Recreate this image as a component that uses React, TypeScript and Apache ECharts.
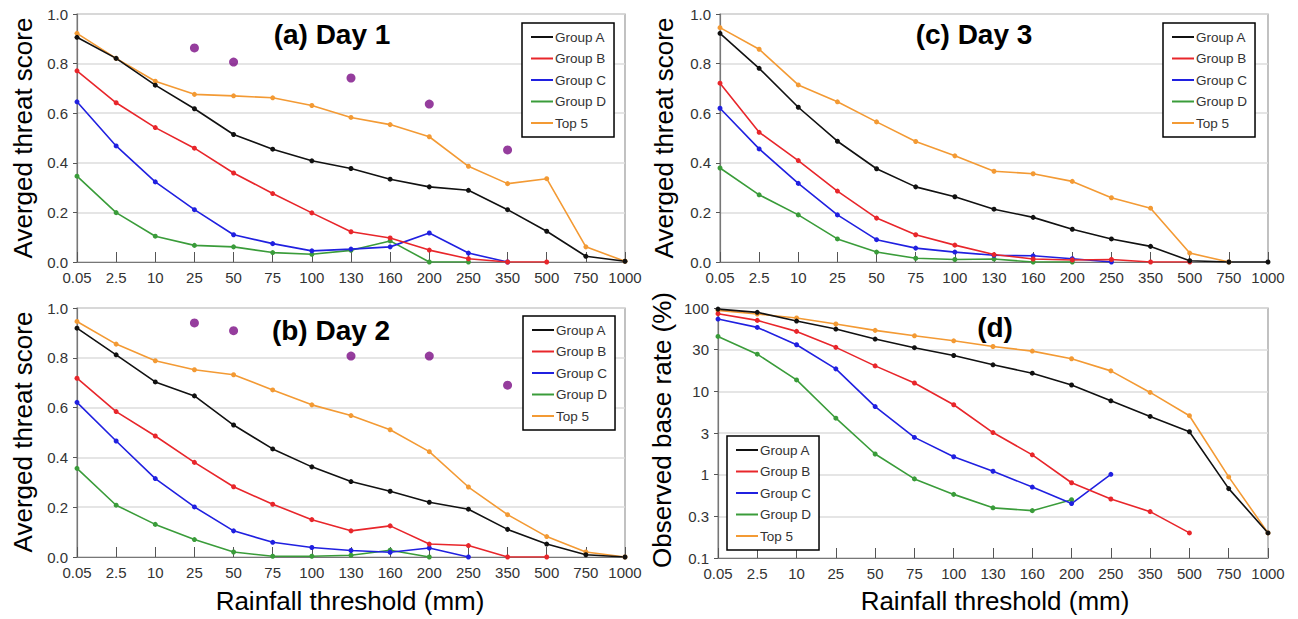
import React, { useEffect, useRef } from "react";
import * as echarts from "echarts";

const CATS = ["0.05", "2.5", "10", "25", "50", "75", "100", "130", "160", "200", "250", "350", "500", "750", "1000"];
const NAMES = ["Group A", "Group B", "Group C", "Group D", "Top 5"];
const COLORS = ["#111111", "#e8262b", "#2020e0", "#3a9c3a", "#f39a34"];
const SCORE_TICKS = ["0.0", "0.2", "0.4", "0.6", "0.8", "1.0"];
const LOG_TICKS = ["0.1", "0.3", "1", "3", "10", "30", "100"];

// Day 1
const A1 = [0.906, 0.821, 0.713, 0.618, 0.514, 0.455, 0.408, 0.377, 0.334, 0.303, 0.289, 0.211, 0.124, 0.023, 0.003];
const B1 = [0.771, 0.642, 0.542, 0.459, 0.359, 0.276, 0.198, 0.122, 0.097, 0.048, 0.013, 0, 0, null, null];
const C1 = [0.646, 0.468, 0.323, 0.211, 0.11, 0.074, 0.045, 0.052, 0.061, 0.117, 0.036, 0, null, null, null];
const D1 = [0.346, 0.199, 0.104, 0.067, 0.061, 0.038, 0.031, 0.047, 0.085, 0, 0, null, null, null, null];
const T1 = [0.922, 0.821, 0.729, 0.676, 0.67, 0.662, 0.631, 0.583, 0.554, 0.505, 0.386, 0.316, 0.336, 0.061, 0.003];
const DOT_X1 = ["25", "50", "130", "200", "350"];
const DOT_Y1 = [0.863, 0.806, 0.742, 0.637, 0.452];

// Day 2
const A2 = [0.919, 0.812, 0.703, 0.647, 0.53, 0.434, 0.362, 0.303, 0.264, 0.22, 0.192, 0.111, 0.052, 0.009, 0];
const B2 = [0.718, 0.584, 0.486, 0.38, 0.282, 0.212, 0.15, 0.105, 0.125, 0.052, 0.046, 0, 0, null, null];
const C2 = [0.621, 0.466, 0.315, 0.201, 0.105, 0.059, 0.038, 0.026, 0.019, 0.036, 0, null, null, null, null];
const D2 = [0.356, 0.208, 0.131, 0.07, 0.02, 0.003, 0.003, 0.007, 0.027, 0, null, null, null, null, null];
const T2 = [0.946, 0.855, 0.788, 0.752, 0.732, 0.671, 0.611, 0.568, 0.511, 0.423, 0.281, 0.17, 0.082, 0.02, 0];
const DOT_X2 = ["25", "50", "130", "200", "350"];
const DOT_Y2 = [0.94, 0.909, 0.807, 0.807, 0.69];

// Day 3
const A3 = [0.922, 0.781, 0.624, 0.487, 0.376, 0.303, 0.263, 0.213, 0.18, 0.132, 0.093, 0.063, 0.005, 0, 0];
const B3 = [0.721, 0.523, 0.409, 0.286, 0.177, 0.11, 0.068, 0.03, 0.012, 0.008, 0.01, 0, 0, null, null];
const C3 = [0.62, 0.456, 0.317, 0.19, 0.09, 0.056, 0.04, 0.027, 0.025, 0.013, 0, null, null, null, null];
const D3 = [0.379, 0.271, 0.19, 0.093, 0.04, 0.015, 0.01, 0.012, 0, 0, null, null, null, null, null];
const T3 = [0.945, 0.858, 0.714, 0.646, 0.565, 0.486, 0.428, 0.366, 0.356, 0.325, 0.259, 0.217, 0.036, 0, null];

// Observed base rate (%)
const AD = [97, 88.7, 69.7, 55.9, 42.4, 33.4, 26.9, 20.8, 16.5, 11.9, 7.7, 5.0, 3.27, 0.68, 0.2];
const BD = [85.5, 71, 52.4, 33.7, 20.2, 12.6, 6.9, 3.2, 1.73, 0.8, 0.51, 0.36, 0.2, null, null];
const CD = [73.7, 58.5, 36.2, 18.6, 6.56, 2.8, 1.64, 1.1, 0.71, 0.45, 1.01, null, null, null, null];
const DD = [45.6, 27.9, 13.7, 4.76, 1.77, 0.89, 0.58, 0.4, 0.37, 0.5, null, null, null, null, null];
const TD = [93.7, 84.7, 75.8, 64.2, 53.9, 46.4, 40.4, 34.5, 30.4, 24.6, 17.6, 9.7, 5.1, 0.94, 0.2];

const FONT = "'Liberation Sans', Arial, sans-serif";

const GRIDS = [
  { left: 77, top: 14, width: 548, height: 248 },
  { left: 77, top: 308, width: 548, height: 249 },
  { left: 720, top: 14, width: 548, height: 248 },
  { left: 718, top: 308, width: 550, height: 250 },
];

const LEGEND_POS = [
  { left: 522, top: 23 },
  { left: 523, top: 316 },
  { left: 1163, top: 23 },
  { left: 727, top: 436 },
];

export default function App() {
  const ref = useRef<HTMLDivElement>(null);

  useEffect(() => {
    if (!ref.current) return;
    const chart = echarts.init(ref.current, null, { renderer: "svg" });

    const panels = [
      [A1, B1, C1, D1, T1],
      [A2, B2, C2, D2, T2],
      [A3, B3, C3, D3, T3],
      [AD, BD, CD, DD, TD],
    ];

    const series: any[] = [];
    panels.forEach((sets, p) => {
      // draw Top 5 first so the groups sit on top
      [4, 3, 2, 1, 0].forEach((k) => {
        series.push({
          type: "line",
          name: NAMES[k],
          xAxisIndex: p,
          yAxisIndex: p,
          data: sets[k],
          symbol: "circle",
          symbolSize: 5,
          showSymbol: true,
          connectNulls: false,
          lineStyle: { color: COLORS[k], width: 1.6 },
          itemStyle: { color: COLORS[k] },
        });
      });
    });
    series.push({
      type: "scatter",
      xAxisIndex: 0,
      yAxisIndex: 0,
      data: DOT_X1.map((x, i) => [x, DOT_Y1[i]]),
      symbolSize: 9,
      itemStyle: { color: "#7a0c85" },
    });
    series.push({
      type: "scatter",
      xAxisIndex: 1,
      yAxisIndex: 1,
      data: DOT_X2.map((x, i) => [x, DOT_Y2[i]]),
      symbolSize: 9,
      itemStyle: { color: "#7a0c85" },
    });

    const xAxis = GRIDS.map((_, i) => ({
      type: "category",
      gridIndex: i,
      data: CATS,
      boundaryGap: false,
      axisLine: { lineStyle: { color: "#777", width: 1.2 } },
      axisTick: { inside: true, length: 10, lineStyle: { color: "#555" } },
      axisLabel: { color: "#333", fontSize: 15, margin: 8, fontFamily: FONT, interval: 0 },
      splitLine: { show: false },
    }));

    const yAxis: any[] = [0, 1, 2].map((i) => ({
      type: "value",
      gridIndex: i,
      min: 0,
      max: 1,
      interval: 0.2,
      axisLine: { show: true, lineStyle: { color: "#777", width: 1.2 } },
      axisTick: { show: true, length: 4, lineStyle: { color: "#555" } },
      axisLabel: {
        color: "#333",
        fontSize: 15,
        margin: 9,
        fontFamily: FONT,
        formatter: (v: number) => SCORE_TICKS[Math.round(v * 5)] ?? "",
      },
      splitLine: { show: true, lineStyle: { color: "#dcdcdc", width: 1.5 } },
    }));
    yAxis.push({
      type: "log",
      gridIndex: 3,
      logBase: Math.sqrt(10),
      min: 0.1,
      max: 100,
      axisLine: { show: true, lineStyle: { color: "#777", width: 1.2 } },
      axisTick: { show: true, length: 4, lineStyle: { color: "#555" } },
      axisLabel: {
        color: "#333",
        fontSize: 15,
        margin: 9,
        fontFamily: FONT,
        formatter: (v: number) => LOG_TICKS[Math.round(Math.log10(v) * 2) + 2] ?? "",
      },
      splitLine: { show: true, lineStyle: { color: "#dcdcdc", width: 1.5 } },
    });

    const legend = LEGEND_POS.map((pos) => ({
      ...pos,
      orient: "vertical",
      data: NAMES,
      icon: "rect",
      itemWidth: 22,
      itemHeight: 2,
      itemGap: 7.5,
      padding: [7, 8, 7, 9],
      borderColor: "#000",
      borderWidth: 1.5,
      backgroundColor: "#fff",
      selectedMode: false,
      textStyle: { fontSize: 13.5, color: "#333", fontFamily: FONT, padding: [0, 0, 0, -3] },
    }));

    const titleStyle = (text: string) => ({
      text,
      fill: "#000",
      font: `bold 28px ${FONT}`,
      textAlign: "center",
      textVerticalAlign: "middle",
    });
    const axisTitle = (text: string) => ({
      text,
      fill: "#000",
      font: `26px ${FONT}`,
      textAlign: "center",
      textVerticalAlign: "middle",
    });

    const graphic = [
      { type: "text", x: 332, y: 34, style: titleStyle("(a) Day 1"), z: 10 },
      { type: "text", x: 331, y: 330, style: titleStyle("(b) Day 2"), z: 10 },
      { type: "text", x: 974, y: 34, style: titleStyle("(c) Day 3"), z: 10 },
      { type: "text", x: 995, y: 327, style: titleStyle("(d)"), z: 10 },
      { type: "text", x: 23, y: 138, rotation: Math.PI / 2, style: axisTitle("Averged threat score") },
      { type: "text", x: 23, y: 432, rotation: Math.PI / 2, style: axisTitle("Averged threat score") },
      { type: "text", x: 664, y: 138, rotation: Math.PI / 2, style: axisTitle("Averged threat score") },
      { type: "text", x: 662, y: 430, rotation: Math.PI / 2, style: axisTitle("Observed base rate (%)") },
      { type: "text", x: 350, y: 601, style: axisTitle("Rainfall threshold (mm)") },
      { type: "text", x: 995, y: 601, style: axisTitle("Rainfall threshold (mm)") },
    ];

    chart.setOption({
      animation: false,
      backgroundColor: "#fff",
      textStyle: { fontFamily: FONT },
      grid: GRIDS.map((g) => ({ ...g, show: true, borderColor: "#999", borderWidth: 1.2, backgroundColor: "#fff" })),
      xAxis,
      yAxis,
      legend,
      series,
      graphic,
    });

    return () => chart.dispose();
  }, []);

  return (
    <div
      ref={ref}
      style={{ position: "absolute", left: 0, top: 0, width: 1298, height: 619, background: "#fff" }}
    />
  );
}
